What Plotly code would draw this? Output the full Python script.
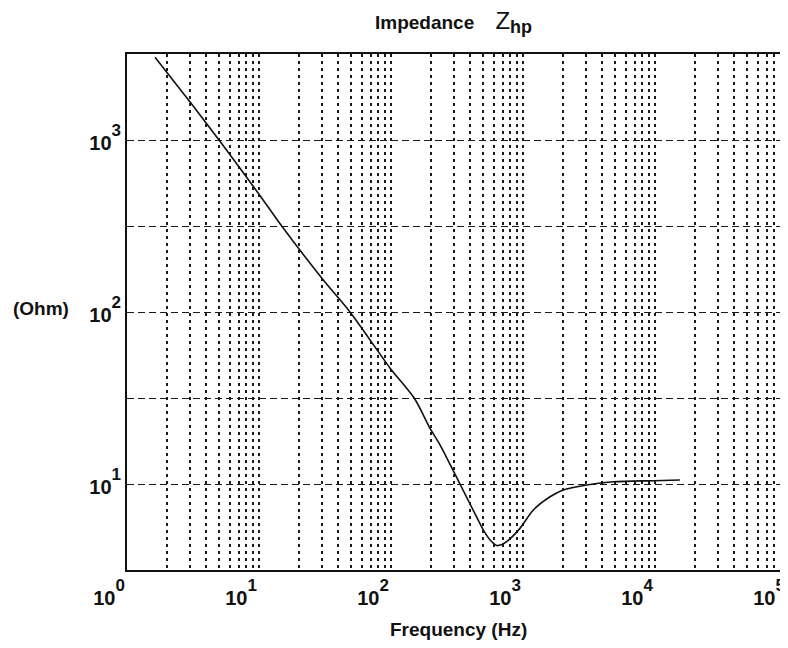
import plotly.graph_objects as go

# ---- data ----
freq_hz = [1.63, 3.13, 4.98, 10.0, 14.86, 30.7, 48.9, 98.2, 151.4, 197.2, 235, 333,
           420, 500, 562, 632, 692, 752, 948, 1197, 1603, 2018, 3034, 4831, 9705, 15450]
z_ohm = [3027, 1596, 1000, 484, 316, 153.5, 100, 47.3, 31.2, 21.1, 16.9, 10.0,
         7.03, 5.41, 4.74, 4.39, 4.45, 4.62, 5.52, 7.06, 8.43, 9.23, 9.86, 10.3, 10.45, 10.54]

x_decades = [1, 10, 100, 1000, 10000, 100000]
x_exponents = ["0", "1", "2", "3", "4", "5"]
y_decades = [10, 100, 1000]
y_exponents = ["1", "2", "3"]
y_half_decades = [3.1623, 31.623, 316.23, 3162.3]

title_main = "Impedance"
title_symbol = "Z"
title_sub = "hp"
x_title = "Frequency (Hz)"
y_title = "(Ohm)"


def power_label(exp):
    return "10<sup><sup><span style='font-size:17px'>" + exp + "</span></sup></sup>"


x_ticktext = [power_label(e) for e in x_exponents]
y_ticktext = [power_label(e) for e in y_exponents]

# minor x grid positions: 2..9 times each decade
x_minor = [m * d for d in x_decades[:-1] for m in range(2, 10)]

FONT = "Liberation Sans, Arial, sans-serif"
INK = "#111111"

fig = go.Figure()
fig.add_trace(go.Scatter(x=freq_hz, y=z_ohm, mode="lines",
                         line=dict(color=INK, width=1.6, shape="spline", smoothing=0.8),
                         showlegend=False, hoverinfo="skip"))

fig.update_layout(
    width=780, height=640,
    margin=dict(l=119, r=1, t=46, b=78),
    paper_bgcolor="white", plot_bgcolor="white",
    font=dict(family=FONT, size=19, color=INK),
    showlegend=False,
)

fig.update_xaxes(
    type="log", range=[0, 5],
    tickmode="array", tickvals=x_decades, ticktext=x_ticktext,
    tickfont=dict(family=FONT, size=20, color=INK, weight="bold"),
    ticks="", ticklabelshift=-18, ticklabelstandoff=9,
    showgrid=True, gridcolor="#1a1a1a", gridwidth=1.7, griddash="3px,4px",
    minor=dict(tickvals=x_minor, showgrid=True, gridcolor="#1a1a1a",
               gridwidth=1.7, griddash="3px,4px", ticks=""),
    showline=True, linecolor=INK, linewidth=2, mirror=True,
    zeroline=False,
)
fig.update_yaxes(
    type="log", range=[0.5, 3.5],
    tickmode="array", tickvals=y_decades, ticktext=y_ticktext,
    tickfont=dict(family=FONT, size=20, color=INK, weight="bold"),
    ticks="", ticklabelstandoff=0, ticklabelshift=3,
    showgrid=True, gridcolor="#1a1a1a", gridwidth=1.3, griddash="7px,4px",
    minor=dict(tickvals=y_half_decades, showgrid=True, gridcolor="#1a1a1a",
               gridwidth=1.3, griddash="7px,4px", ticks=""),
    showline=True, linecolor=INK, linewidth=2, mirror=False,
    zeroline=False,
)

title_text = ("<b>" + title_main + "</b>&nbsp;&nbsp;&nbsp;&nbsp;<span style='font-size:24px'>" +
              title_symbol + "</span><sub><span style='font-size:18px'><b>" + title_sub +
              "</b></span></sub>")
fig.add_annotation(text=title_text, xref="paper", yref="paper", x=0.495, y=1.062,
                   xanchor="center", yanchor="middle", showarrow=False,
                   font=dict(family=FONT, size=19, color=INK))
fig.add_annotation(text="<b>" + x_title + "</b>", xref="paper", yref="paper", x=0.502, y=-0.116,
                   xanchor="center", yanchor="middle", showarrow=False,
                   font=dict(family=FONT, size=19, color=INK))
fig.add_annotation(text="<b>" + y_title + "</b>", xref="paper", yref="y", x=-0.13, y=2.02,
                   xanchor="center", yanchor="middle", showarrow=False,
                   font=dict(family=FONT, size=19, color=INK))

fig.write_html("out.html")
